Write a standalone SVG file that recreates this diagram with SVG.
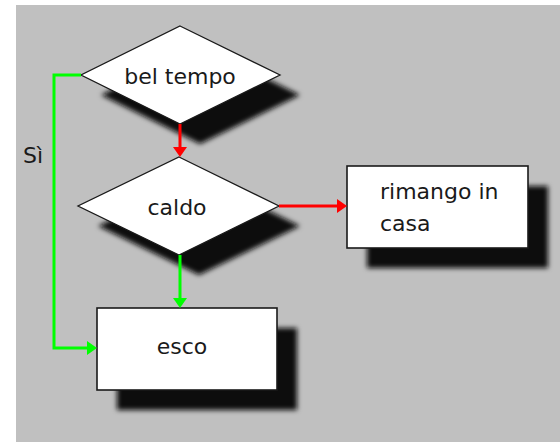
<svg xmlns="http://www.w3.org/2000/svg" width="560" height="442" viewBox="0 0 560 442">
<defs>
<filter id="sh" x="-20%" y="-20%" width="150%" height="150%">
<feGaussianBlur stdDeviation="2.5"/>
</filter>
<marker id="ar" markerUnits="userSpaceOnUse" markerWidth="10" markerHeight="14" refX="5" refY="7" orient="auto">
<path d="M0,0 L10,7 L0,14 z" fill="#ff0000"/>
</marker>
<marker id="ag" markerUnits="userSpaceOnUse" markerWidth="10" markerHeight="14" refX="5" refY="7" orient="auto">
<path d="M0,0 L10,7 L0,14 z" fill="#00ff00"/>
</marker>
</defs>
<style>
.shadow{fill:#0e0e0e;filter:url(#sh)}
.shape{fill:#ffffff;stroke:#1a1a1a;stroke-width:1.3}
.box{fill:#ffffff;stroke:#1a1a1a;stroke-width:1.6}
.lbl{font-family:"DejaVu Sans",Verdana,sans-serif;font-size:22px;fill:#1a1a1a}
.red{fill:none;stroke:#ff0000;stroke-width:3;marker-end:url(#ar)}
.green{fill:none;stroke:#00ff00;stroke-width:3}
.greena{fill:none;stroke:#00ff00;stroke-width:3;marker-end:url(#ag)}
</style>
<rect x="0" y="0" width="560" height="442" fill="#ffffff"/>
<rect x="16" y="5" width="544" height="437" fill="#c0c0c0"/>

<g id="node-esco">
<rect class="shadow" x="117" y="328" width="180" height="82"/>
<rect class="box" x="97" y="308" width="180" height="82"/>
<text class="lbl" x="182" y="354" text-anchor="middle">esco</text>
</g>

<g id="node-rimango">
<rect class="shadow" x="367" y="186" width="181" height="82"/>
<rect class="box" x="347" y="166" width="181" height="82"/>
<text class="lbl" x="380" y="199">rimango in</text>
<text class="lbl" x="380" y="231">casa</text>
</g>

<g id="node-caldo">
<polygon class="shadow" points="199,177 300,226 199,275 98,226"/>
<polygon class="shape" points="179,157 279,206 179,255 78,206"/>
<text class="lbl" x="177" y="215" text-anchor="middle">caldo</text>
</g>

<g id="node-beltempo">
<polygon class="shadow" points="200,46 300,95 200,144 101,95"/>
<polygon class="shape" points="180,26 280,75 180,124 81,75"/>
<text class="lbl" x="180" y="84" text-anchor="middle">bel tempo</text>
</g>

<g id="connectors">
<line class="red" x1="180" y1="124" x2="180" y2="152"/>
<line class="red" x1="279" y1="206" x2="342" y2="206"/>
<polyline class="greena" points="81,75 54,75 54,348 92,348"/>
<line class="greena" x1="180" y1="255" x2="180" y2="303"/>
<text class="lbl" x="23" y="163">Sì</text>
</g>
</svg>
